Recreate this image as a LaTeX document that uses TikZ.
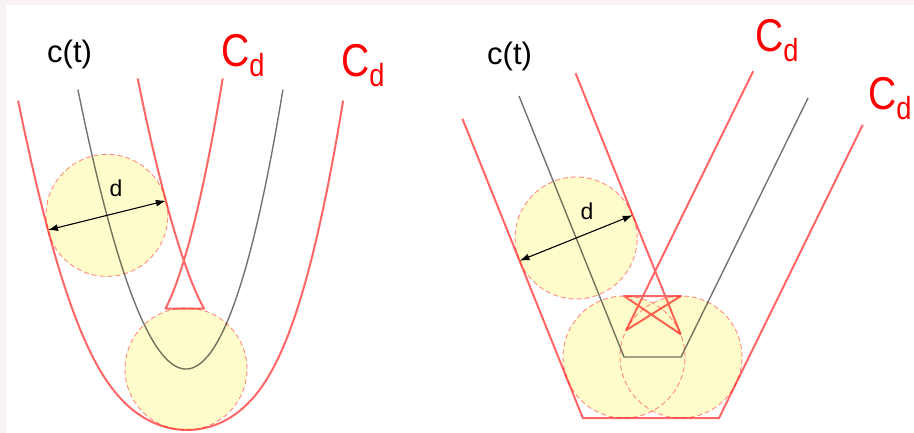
\documentclass[tikz,border=0pt]{standalone}
\usepackage{fontspec}
\setmainfont{Liberation Sans}
\newfontfamily\cdfont[FakeStretch=0.85]{Liberation Sans}
\usetikzlibrary{calc,arrows.meta}
\definecolor{framecol}{RGB}{248,242,246}
\newcommand{\cdsub}{\raisebox{-10pt}{\fontsize{32}{32}\selectfont d}}

\begin{document}
\begin{tikzpicture}[>=Latex, x=1pt, y=-1pt,
  declare function={ak=0.0266; rr=61;
    sn(\t)=sqrt(1+(2*ak*\t)*(2*ak*\t));
    xin(\t)=\t-rr*2*ak*\t/sn(\t);  yin(\t)=-ak*\t*\t-rr/sn(\t);
    xout(\t)=\t+rr*2*ak*\t/sn(\t); yout(\t)=-ak*\t*\t+rr/sn(\t);},
  curve/.style={draw=black, draw opacity=0.55, line width=1.4pt},
  offset/.style={draw=red, draw opacity=0.6, line width=2pt, line join=round},
  disc/.style={draw=red, draw opacity=0.45, dash pattern=on 5pt off 3pt,
    line width=0.9pt, fill=yellow, fill opacity=0.2},
  dimarrow/.style={<->, line width=1.1pt, >={Latex[length=10pt,width=7pt]}},
  ctext/.style={inner sep=0pt, anchor=base west, font=\fontsize{31}{31}\selectfont},
  cdtext/.style={inner sep=0pt, anchor=base west, text=red, font=\cdfont\fontsize{46}{46}\selectfont},
  dtext/.style={inner sep=0pt, font=\fontsize{23}{23}\selectfont}]
  \useasboundingbox (0,0) rectangle (914,433);
  \fill[white] (0,0) rectangle (914,433);
  \fill[framecol] (0,0) rectangle (914,5) (0,0) rectangle (6,433);

  % left: parabola c(t)
  \begin{scope}[shift={(186,369)}, xslant=-0.02]
    \coordinate (vL) at (0,0);
    \coordinate (cL) at (-76,{-ak*76*76});
    \coordinate (dLo) at ({xout(-76)},{yout(-76)});
    \coordinate (dLi) at ({xin(-76)},{yin(-76)});
  \end{scope}
  \path[disc] (cL) circle[radius=61pt] (vL) circle[radius=61pt];
  \begin{scope}[shift={(186,369)}, xslant=-0.02]
    \draw[curve] plot[domain=-102.5:102.5, samples=201, variable=\t] ({\t},{-ak*\t*\t});
    % inner offset: the two branches, joined straight below the crossing
    \draw[offset] plot[domain=-102.5:-34.17, samples=120, variable=\t] ({xin(\t)},{yin(\t)})
      -- plot[domain=34.17:102.5, samples=120, variable=\t] ({xin(\t)},{yin(\t)});
    \draw[offset] plot[domain=-102.5:102.5, samples=201, variable=\t] ({xout(\t)},{yout(\t)});
  \end{scope}
  \draw[dimarrow] (dLo) -- (dLi);
  \node[dtext] (dL) at (116,188.5) {d};
  \node[ctext] (ctL) at (47,63) {c(t)};
  \node[cdtext] (cdL1) at (221,67) {C\cdsub};
  \node[cdtext] (cdL2) at (341,77) {C\cdsub};

  % right: polyline c(t)
  \coordinate (pA) at (519,96);
  \coordinate (pB) at (624,357);
  \coordinate (pC) at (681,357);
  \coordinate (pD) at (808,98);
  % outer side
  \coordinate (oA1) at ($(pA)!61pt!-90:(pB)$);
  \coordinate (oB1) at ($(pB)!61pt!90:(pA)$);
  \coordinate (oB2) at ($(pB)!61pt!-90:(pC)$);
  \coordinate (oC2) at ($(pC)!61pt!90:(pB)$);
  \coordinate (oC3) at ($(pC)!61pt!-90:(pD)$);
  \coordinate (oD3) at ($(pD)!61pt!90:(pC)$);
  \coordinate (oB) at (intersection of oA1--oB1 and oB2--oC2);
  \coordinate (oC) at (intersection of oB2--oC2 and oC3--oD3);
  % inner side
  \coordinate (iA1) at ($(pA)!61pt!90:(pB)$);
  \coordinate (iB1) at ($(pB)!61pt!-90:(pA)$);
  \coordinate (iB2) at ($(pB)!61pt!90:(pC)$);
  \coordinate (iC2) at ($(pC)!61pt!-90:(pB)$);
  \coordinate (iC3) at ($(pC)!61pt!90:(pD)$);
  \coordinate (iD3) at ($(pD)!61pt!-90:(pC)$);
  % disc on the left leg
  \coordinate (cR) at ($(pA)!0.544!(pB)$);
  \coordinate (dRo) at ($(cR)!61pt!-90:(pB)$);
  \coordinate (dRi) at ($(cR)!61pt!90:(pB)$);
  \path[disc] (cR) circle[radius=61pt] (pB) circle[radius=61pt] (pC) circle[radius=61pt];
  \draw[curve, line join=miter] (pA) -- (pB) -- (pC) -- (pD);
  \draw[offset, line join=miter] (oA1) -- (oB) -- (oC) -- (oD3);
  \draw[offset] (iA1) -- (iB1) -- (iB2) -- (iC2) -- (iC3) -- (iD3);
  \draw[dimarrow] (dRo) -- (dRi);
  \node[dtext] (dR) at (587,211) {d};
  \node[ctext] (ctR) at (487,65) {c(t)};
  \node[cdtext] (cdR1) at (755,52) {C\cdsub};
  \node[cdtext] (cdR2) at (868,110) {C\cdsub};
\end{tikzpicture}
\end{document}
